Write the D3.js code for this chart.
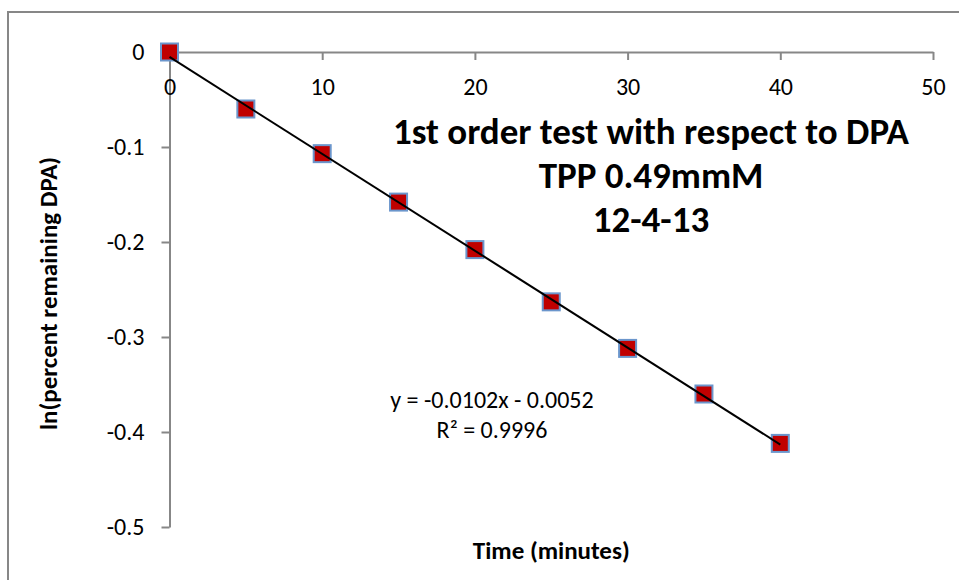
<!DOCTYPE html>
<html>
<head>
<meta charset="utf-8">
<script src="https://cdn.jsdelivr.net/npm/d3@7"></script>
<style>
  html, body { margin: 0; padding: 0; background: #fff; }
  svg text { font-family: Carlito, Calibri, Lato, "Open Sans", sans-serif; fill: #000; }
</style>
</head>
<body>
<div id="chart"></div>
<script>
// data
const timeMin = [0, 5, 10, 15, 20, 25, 30, 35, 40];
const lnRemaining = [0, -0.060, -0.107, -0.158, -0.208, -0.263, -0.312, -0.360, -0.412];
const slope = -0.0102;
const intercept = -0.0052;
const xTicks = [0, 10, 20, 30, 40, 50];
const yTicks = [0, -0.1, -0.2, -0.3, -0.4, -0.5];
const titleLines = ["1st order test with respect to DPA", "TPP 0.49mmM", "12-4-13"];
const eqLines = ["y = -0.0102x - 0.0052", "R\u00b2 = 0.9996"];

const W = 959, H = 580;
const svg = d3.select('#chart').append('svg')
    .attr('width', W)
    .attr('height', H);

// chart frame, cut by the picture edges
svg.append('rect')
    .attr('x', 8).attr('y', 12)
    .attr('width', W + 20).attr('height', H + 20)
    .attr('fill', '#fff')
    .attr('stroke', '#878787')
    .attr('stroke-width', 2);

const x = d3.scaleLinear().domain([0, 50]).range([169.5, 933]);
const y = d3.scaleLinear().domain([-0.5, 0]).range([527, 52]);

const axisColor = '#878787';

// y axis
const gy = svg.append('g')
    .attr('transform', `translate(${x(0)},0)`)
    .call(d3.axisLeft(y).tickValues(yTicks)
        .tickFormat(d => d === 0 ? '0' : d.toFixed(1))
        .tickSize(8).tickSizeOuter(0).tickPadding(17));

// x axis sits on y = 0
const gx = svg.append('g')
    .attr('transform', `translate(0,${y(0)})`)
    .call(d3.axisBottom(x).tickValues(xTicks)
        .tickFormat(d3.format('d'))
        .tickSize(8).tickSizeOuter(0).tickPadding(18));

[gx, gy].forEach(g => {
    g.select('.domain').attr('stroke', axisColor).attr('stroke-width', 2);
    g.selectAll('.tick line').attr('stroke', axisColor).attr('stroke-width', 2);
    g.selectAll('.tick text')
        .attr('fill', '#000')
        .style('font-size', '24px');
});

const trendX = [0, 40];
const ms = 17;

// markers
svg.append('g').selectAll('rect')
    .data(timeMin.map((t, i) => [t, lnRemaining[i]]))
    .enter()
    .append('rect')
    .attr('x', d => x(d[0]) - ms / 2)
    .attr('y', d => y(d[1]) - ms / 2)
    .attr('width', ms).attr('height', ms)
    .attr('fill', '#c00000')
    .attr('stroke', '#6b96cc')
    .attr('stroke-width', 2);

// trend line, drawn over the markers like in the original
svg.append('line')
    .attr('x1', x(trendX[0])).attr('y1', y(slope * trendX[0] + intercept))
    .attr('x2', x(trendX[1])).attr('y2', y(slope * trendX[1] + intercept))
    .attr('stroke', '#000')
    .attr('stroke-width', 2);

// title
svg.append('g').selectAll('text')
    .data(titleLines)
    .enter()
    .append('text')
    .attr('x', 651)
    .attr('y', (d, i) => 144 + i * 44)
    .attr('text-anchor', 'middle')
    .style('font-size', '37px')
    .style('font-weight', 'bold')
    .text(d => d);

// regression label
svg.append('g').selectAll('text')
    .data(eqLines)
    .enter()
    .append('text')
    .attr('x', 492)
    .attr('y', (d, i) => 408 + i * 30)
    .attr('text-anchor', 'middle')
    .style('font-size', '24px')
    .text(d => d);

// axis titles
svg.append('text')
    .attr('x', (x(0) + x(50)) / 2)
    .attr('y', 559)
    .attr('text-anchor', 'middle')
    .style('font-size', '25px')
    .style('font-weight', 'bold')
    .text('Time (minutes)');

svg.append('text')
    .attr('transform', `translate(57,${(y(0) + y(-0.5)) / 2 + 4}) rotate(-90)`)
    .attr('text-anchor', 'middle')
    .style('font-size', '25px')
    .style('font-weight', 'bold')
    .text('ln(percent remaining DPA)');
</script>
</body>
</html>
